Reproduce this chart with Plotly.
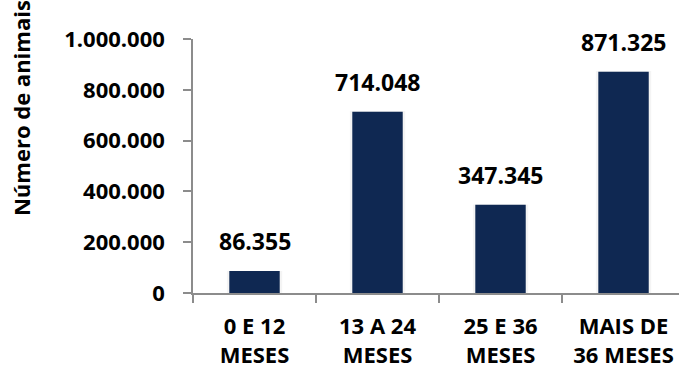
import plotly.graph_objects as go

# Herd size by age class
categories = ["0 E 12<br>MESES", "13 A 24<br>MESES", "25 E 36<br>MESES", "MAIS DE<br>36 MESES"]
animals = [86355, 714048, 347345, 871325]
y_ticks = [0, 200000, 400000, 600000, 800000, 1000000]
y_tick_labels = ["0", "200.000", "400.000", "600.000", "800.000", "1.000.000"]


def br_format(v):
    return f"{v:,}".replace(",", ".")


FONT = "Open Sans"
BAR = "#0f2852"
AXIS = "#8c8c8c"

fig = go.Figure()

# soft halo behind each bar
fig.add_trace(go.Bar(
    x=categories, y=[v * 1.003 for v in animals], width=0.45,
    marker=dict(color="rgba(0,0,0,0.045)", line=dict(width=0)),
    hoverinfo="skip", showlegend=False,
))
fig.add_trace(go.Bar(
    x=categories, y=animals, width=0.41,
    marker=dict(color=BAR, line=dict(width=0)),
    showlegend=False,
))

for c, v in zip(categories, animals):
    fig.add_annotation(
        x=c, y=v, text=br_format(v), showarrow=False,
        xanchor="center", yanchor="bottom", yshift=12,
        font=dict(family=FONT, size=23, color="#000000", weight="bold"),
    )

fig.add_annotation(
    xref="paper", yref="paper", x=-0.354, y=0.728,
    text="Número de animais", textangle=-90, showarrow=False,
    xanchor="center", yanchor="middle",
    font=dict(family=FONT, size=22, color="#000000", weight="bold"),
)

fig.update_layout(
    width=679, height=368,
    margin=dict(l=193, r=0, t=39, b=75, autoexpand=False),
    paper_bgcolor="white", plot_bgcolor="white",
    barmode="overlay",
    font=dict(family=FONT, color="#000000"),
    xaxis=dict(
        type="category", range=[-0.5, 3.451], automargin=False,
        showline=True, linecolor=AXIS, linewidth=2,
        ticks="outside", ticklen=8, tickcolor=AXIS, tickwidth=1.5,
        tickson="boundaries", showgrid=False, zeroline=False,
        ticklabelstandoff=13,
        tickfont=dict(family=FONT, size=22, color="#000000", weight="bold"),
    ),
    yaxis=dict(
        range=[0, 1000000], tickvals=y_ticks, ticktext=y_tick_labels,
        automargin=False,
        showline=True, linecolor=AXIS, linewidth=1.5,
        ticks="outside", ticklen=8, tickcolor=AXIS, tickwidth=1.5,
        ticklabelstandoff=14,
        showgrid=False, zeroline=False,
        tickfont=dict(family=FONT, size=22, color="#000000", weight="bold"),
    ),
)

fig.write_html("out.html")
